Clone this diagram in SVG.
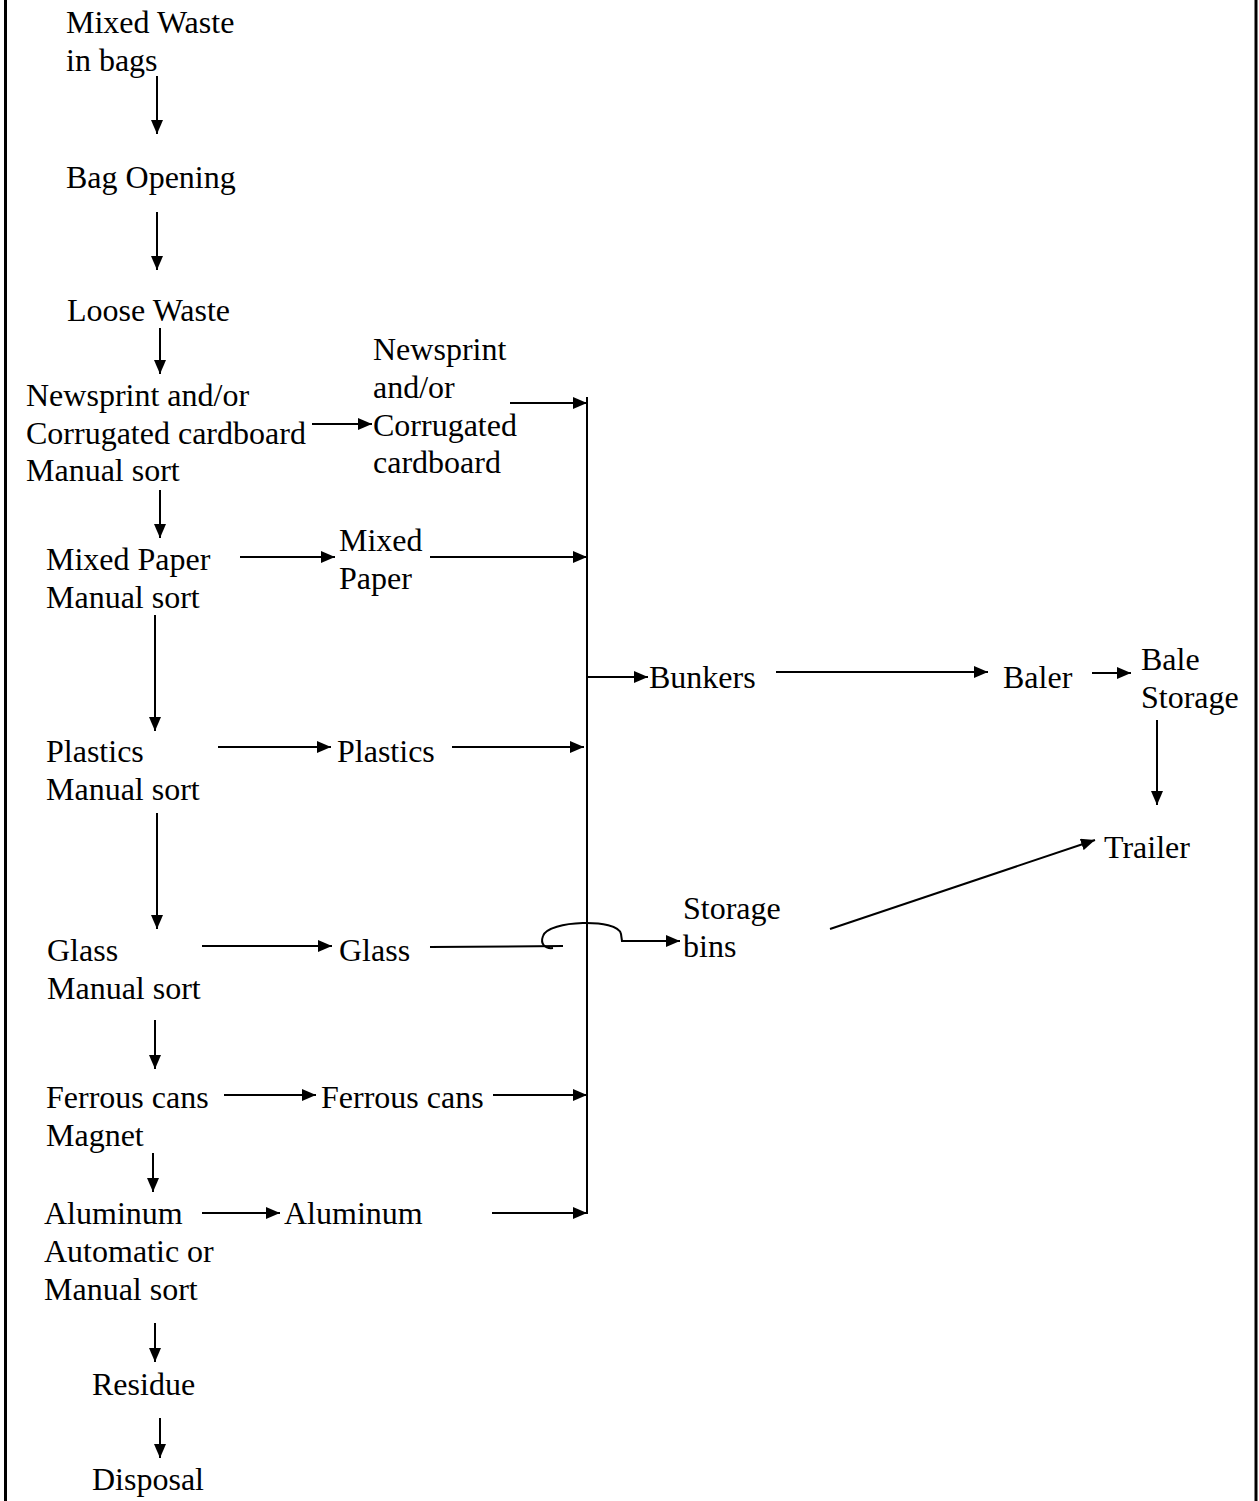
<svg xmlns="http://www.w3.org/2000/svg" width="1259" height="1501" viewBox="0 0 1259 1501">
  <style>
    text { font-family: "Liberation Serif", "Times New Roman", serif; font-size: 32px; fill: #000; }
    .ln { stroke: #000; stroke-width: 2; fill: none; }
    .arr { stroke: #000; stroke-width: 2; fill: none; marker-end: url(#head); }
    .frame { stroke: #000; stroke-width: 3; }
  </style>
  <defs>
    <marker id="head" viewBox="0 0 14 12" refX="14" refY="6" markerWidth="14" markerHeight="12" markerUnits="userSpaceOnUse" orient="auto">
      <path d="M0,0 L14,6 L0,12 Z" fill="#000"/>
    </marker>
  </defs>
  <rect width="1259" height="1501" fill="#fff"/>

  <!-- page frame (left and right rules) -->
  <line class="frame" x1="5.5" y1="0" x2="5.5" y2="1501"/>
  <line class="frame" x1="1256" y1="0" x2="1256" y2="1501"/>

  <!-- main sorting line, left column -->
  <g id="mixed-waste"><text x="66" y="33">Mixed Waste</text><text x="66" y="71">in bags</text></g>
  <g id="bag-opening"><text x="66" y="188">Bag Opening</text></g>
  <g id="loose-waste"><text x="67" y="321">Loose Waste</text></g>
  <g id="newsprint-sort"><text x="26" y="406">Newsprint and/or</text><text x="26" y="444">Corrugated cardboard</text><text x="26" y="481">Manual sort</text></g>
  <g id="mixed-paper-sort"><text x="46" y="570">Mixed Paper</text><text x="46" y="608">Manual sort</text></g>
  <g id="plastics-sort"><text x="46" y="762">Plastics</text><text x="46" y="800">Manual sort</text></g>
  <g id="glass-sort"><text x="47" y="961">Glass</text><text x="47" y="999">Manual sort</text></g>
  <g id="ferrous-sort"><text x="46" y="1108">Ferrous cans</text><text x="46" y="1146">Magnet</text></g>
  <g id="aluminum-sort"><text x="44" y="1224">Aluminum</text><text x="44" y="1262">Automatic or</text><text x="44" y="1300">Manual sort</text></g>
  <g id="residue"><text x="92" y="1395">Residue</text></g>
  <g id="disposal"><text x="92" y="1490">Disposal</text></g>

  <!-- recovered materials -->
  <g id="newsprint"><text x="373" y="360">Newsprint</text><text x="373" y="398">and/or</text><text x="373" y="436">Corrugated</text><text x="373" y="473">cardboard</text></g>
  <g id="mixed-paper"><text x="339" y="551">Mixed</text><text x="339" y="589">Paper</text></g>
  <g id="plastics"><text x="337" y="762">Plastics</text></g>
  <g id="glass"><text x="339" y="961">Glass</text></g>
  <g id="ferrous-cans"><text x="321" y="1108">Ferrous cans</text></g>
  <g id="aluminum"><text x="284" y="1224">Aluminum</text></g>

  <!-- downstream handling -->
  <g id="bunkers"><text x="649" y="688">Bunkers</text></g>
  <g id="baler"><text x="1003" y="688">Baler</text></g>
  <g id="bale-storage"><text x="1141" y="670">Bale</text><text x="1141" y="708">Storage</text></g>
  <g id="trailer"><text x="1104" y="858">Trailer</text></g>
  <g id="storage-bins"><text x="683" y="919">Storage</text><text x="683" y="957">bins</text></g>

  <g id="connectors">
    <!-- vertical flow -->
    <line class="arr" x1="157" y1="76" x2="157" y2="134"/>
    <line class="arr" x1="157" y1="212" x2="157" y2="270"/>
    <line class="arr" x1="160" y1="328" x2="160" y2="374"/>
    <line class="arr" x1="160" y1="490" x2="160" y2="538"/>
    <line class="arr" x1="155" y1="615" x2="155" y2="731"/>
    <line class="arr" x1="157" y1="813" x2="157" y2="929"/>
    <line class="arr" x1="155" y1="1020" x2="155" y2="1069"/>
    <line class="arr" x1="153" y1="1153" x2="153" y2="1192"/>
    <line class="arr" x1="155" y1="1323" x2="155" y2="1362"/>
    <line class="arr" x1="160" y1="1418" x2="160" y2="1458"/>

    <!-- sort station to material -->
    <line class="arr" x1="312" y1="424" x2="372" y2="424"/>
    <line class="arr" x1="240" y1="557" x2="335" y2="557"/>
    <line class="arr" x1="218" y1="747" x2="331" y2="747"/>
    <line class="arr" x1="202" y1="946" x2="332" y2="946"/>
    <line class="arr" x1="224" y1="1095" x2="316" y2="1095"/>
    <line class="arr" x1="202" y1="1213" x2="280" y2="1213"/>

    <!-- material to collector -->
    <line class="arr" x1="510" y1="403" x2="587" y2="403"/>
    <line class="arr" x1="430" y1="557" x2="587" y2="557"/>
    <line class="arr" x1="452" y1="747" x2="584" y2="747"/>
    <line class="arr" x1="493" y1="1095" x2="587" y2="1095"/>
    <line class="arr" x1="492" y1="1213" x2="587" y2="1213"/>

    <!-- collector bus -->
    <line class="ln" x1="587" y1="397" x2="587" y2="1214"/>
    <line class="arr" x1="587" y1="677" x2="648" y2="677"/>

    <!-- glass hops over the bus to storage bins -->
    <line class="ln" x1="430" y1="947" x2="563" y2="946"/>
    <path class="arr" d="M553,948 C545,949 540,944 543,936 C548,920 618,918 621,934 L622,941 L680,941"/>

    <!-- right side -->
    <line class="arr" x1="776" y1="672" x2="988" y2="672"/>
    <line class="arr" x1="1092" y1="673" x2="1131" y2="673"/>
    <line class="arr" x1="1157" y1="720" x2="1157" y2="805"/>
    <line class="arr" x1="830" y1="929" x2="1095" y2="840"/>
  </g>
</svg>
